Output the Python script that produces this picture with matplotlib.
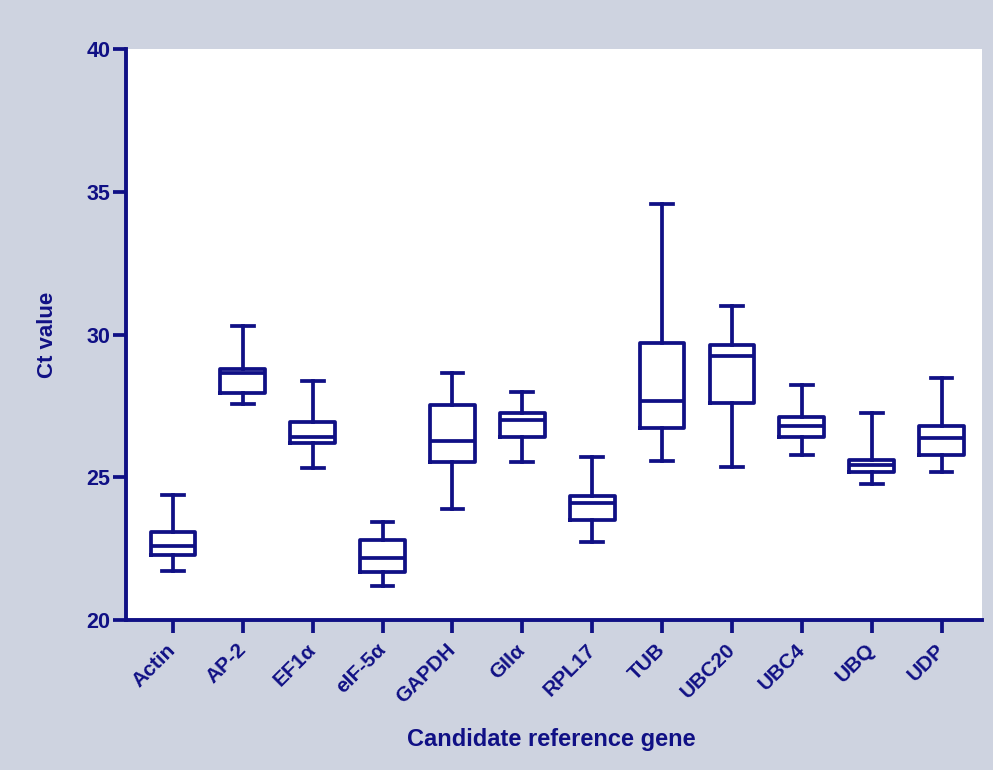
import numpy as np
import matplotlib
matplotlib.use("Agg")
import matplotlib.pyplot as plt

# === Ct values (whiskers, box, median) ===
genes = ["Actin", "AP-2", "EF1α", "eIF-5α", "GAPDH", "GIIα",
         "RPL17", "TUB", "UBC20", "UBC4", "UBQ", "UDP"]
whisker_low = [21.70, 27.58, 25.34, 21.18, 23.89, 25.54, 22.74, 25.57, 25.37, 25.78, 24.76, 25.17]
q1          = [22.26, 27.94, 26.21, 21.66, 25.53, 26.42, 23.50, 26.71, 27.59, 26.42, 25.19, 25.78]
medians     = [22.58, 28.66, 26.42, 22.16, 26.28, 27.00, 24.11, 27.67, 29.26, 26.80, 25.43, 26.36]
q3          = [23.09, 28.80, 26.94, 22.81, 27.53, 27.24, 24.34, 29.71, 29.63, 27.12, 25.60, 26.81]
whisker_hi  = [24.37, 30.30, 28.36, 23.42, 28.66, 27.98, 25.72, 34.56, 31.01, 28.23, 27.24, 28.48]

NAVY = "#101085"
BG = "#ced3e0"
FONT = "Liberation Sans"

stats = [
    {"label": g, "whislo": lo, "q1": a, "med": m, "q3": b, "whishi": hi, "fliers": []}
    for g, lo, a, m, b, hi in zip(genes, whisker_low, q1, medians, q3, whisker_hi)
]

fig = plt.figure(figsize=(9.93, 7.70), dpi=100, facecolor=BG)
ax = fig.add_axes([0.127, 0.195, 0.862, 0.741])
ax.set_facecolor("white")

lw = 2.7
line = dict(color=NAVY, linewidth=lw)
ax.bxp(stats, positions=np.arange(len(genes)), widths=0.64,
       boxprops=line, medianprops=line, whiskerprops=line,
       capprops=line, capwidths=0.31, showfliers=False)

ax.set_xlim(-0.67, len(genes) - 1 + 0.58)
ax.set_ylim(20, 40)
ax.set_yticks([20, 25, 30, 35, 40])

for side in ("top", "right"):
    ax.spines[side].set_visible(False)
for side in ("left", "bottom"):
    ax.spines[side].set_color(NAVY)
    ax.spines[side].set_linewidth(2.8)

ax.tick_params(axis="both", colors=NAVY, width=2.7, length=9.5, direction="out")
ax.tick_params(axis="x", pad=10)
ax.tick_params(axis="y", pad=2)
ax.set_xticks(np.arange(len(genes)))
ax.set_xticklabels(genes, rotation=45, ha="right", va="center",
                   rotation_mode="anchor", fontsize=15, fontweight="bold",
                   family=FONT, color=NAVY)
for t in ax.get_yticklabels():
    t.set_fontsize(15.5)
    t.set_fontweight("bold")
    t.set_family(FONT)
    t.set_color(NAVY)

ax.set_ylabel("Ct value", fontsize=16, fontweight="bold", family=FONT, color=NAVY)
ax.yaxis.set_label_coords(-0.079, 0.5)
ax.set_xlabel("Candidate reference gene", fontsize=17, fontweight="bold",
              family=FONT, color=NAVY)
ax.xaxis.set_label_coords(0.497, -0.19)

fig.savefig("out.png", dpi=100, facecolor=BG)
